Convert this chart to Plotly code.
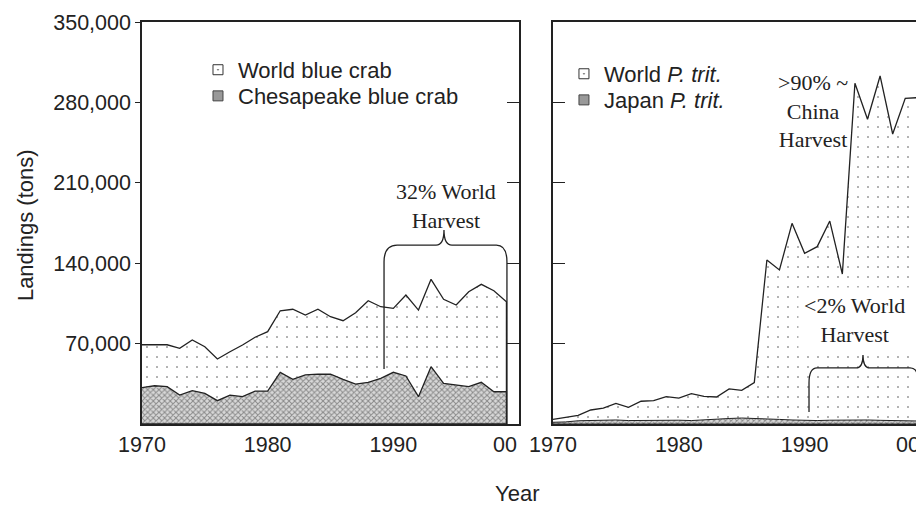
import plotly.graph_objects as go

years = list(range(1970, 2000))

world_blue_crab = [69000, 69200, 69000, 65900, 73100, 67300, 56600, 62900, 68800, 75500,
                   80400, 98600, 99900, 94900, 99900, 93400, 89900, 96900, 107300, 102100,
                   100700, 112300, 99200, 126000, 108600, 103600, 115200, 121600, 116000, 106500]
chesapeake_blue_crab = [31600, 33300, 32500, 25200, 29000, 26700, 20300, 25200, 23800, 28700,
                        28700, 45000, 38900, 42700, 43500, 43300, 38900, 34800, 36300, 39800,
                        45000, 41800, 23800, 49900, 35400, 34000, 32500, 36300, 28100, 28100]
world_p_trit = [4100, 5800, 7600, 12200, 13900, 18000, 14500, 19800, 20300, 23800,
                22600, 26400, 24100, 23500, 30500, 29300, 36000, 142800, 134100, 174700,
                148600, 154400, 176700, 130600, 296600, 265300, 303000, 252500, 283600, 284100]
japan_p_trit = [1500, 1800, 2800, 3000, 3200, 3500, 3000, 3200, 3000, 3500,
                3300, 3000, 3800, 4200, 4800, 5200, 5000, 4500, 4000, 3500,
                3200, 3000, 3300, 3500, 3800, 3500, 3200, 3000, 2800, 2600]

y_ticks = [70000, 140000, 210000, 280000, 350000]
x_ticks = [1970, 1980, 1990]
x_ticktext = ["1970", "1980", "1990"]

SANS = "Liberation Sans, Arial, sans-serif"
SERIF = "Liberation Serif, Times New Roman, serif"
INK = "#222222"

dots = dict(shape=".", size=10, solidity=0.03, fgcolor="#333333", bgcolor="white")
hatch = dict(shape="x", size=4, solidity=0.45, fgcolor="#3a3a3a", bgcolor="#d8d8d8")


def polygon(vals):
    return years + [years[-1], years[0]], vals + [0, 0]


fig = go.Figure()

px, py = polygon(world_blue_crab)
fig.add_trace(go.Scatter(x=px, y=py, fill="toself", fillcolor="white", fillpattern=dots,
                         mode="lines", line=dict(color=INK, width=1.3),
                         showlegend=False, hoverinfo="skip", xaxis="x", yaxis="y"))
px, py = polygon(chesapeake_blue_crab)
fig.add_trace(go.Scatter(x=px, y=py, fill="toself", fillcolor="#d8d8d8", fillpattern=hatch,
                         mode="lines", line=dict(color=INK, width=1.3),
                         showlegend=False, hoverinfo="skip", xaxis="x", yaxis="y"))
px, py = polygon(world_p_trit)
fig.add_trace(go.Scatter(x=px, y=py, fill="toself", fillcolor="white", fillpattern=dots,
                         mode="lines", line=dict(color=INK, width=1.3),
                         showlegend=False, hoverinfo="skip", xaxis="x2", yaxis="y2"))
px, py = polygon(japan_p_trit)
fig.add_trace(go.Scatter(x=px, y=py, fill="toself", fillcolor="#d8d8d8", fillpattern=hatch,
                         mode="lines", line=dict(color=INK, width=1),
                         showlegend=False, hoverinfo="skip", xaxis="x2", yaxis="y2"))
# dummy trace for the inside-tick right axis of left panel
fig.add_trace(go.Scatter(x=[None], y=[None], showlegend=False, xaxis="x", yaxis="y3"))

# legend entries (one legend per row so rows sit exactly like the reference)
open_sym = dict(symbol="square-open-dot", size=10, color="#333333", line=dict(width=1))
fill_sym = dict(symbol="square", size=10, color="#999999", line=dict(color="#444444", width=1))
fig.add_trace(go.Scatter(x=[None], y=[None], mode="markers", marker=open_sym,
                         name="World blue crab", legend="legend", xaxis="x", yaxis="y"))
fig.add_trace(go.Scatter(x=[None], y=[None], mode="markers", marker=fill_sym,
                         name="Chesapeake blue crab", legend="legend2", xaxis="x", yaxis="y"))
fig.add_trace(go.Scatter(x=[None], y=[None], mode="markers", marker=open_sym,
                         name="World <i>P. trit.</i>", legend="legend3", xaxis="x2", yaxis="y2"))
fig.add_trace(go.Scatter(x=[None], y=[None], mode="markers", marker=fill_sym,
                         name="Japan <i>P. trit.</i>", legend="legend4", xaxis="x2", yaxis="y2"))

axis_common = dict(showgrid=False, zeroline=False, showline=True, linecolor=INK, linewidth=1.5,
                   automargin=False)
legend_font = dict(size=22, family=SANS, color=INK)


def leg(x, y):
    return dict(x=x, y=y, xanchor="left", yanchor="top", bgcolor="rgba(0,0,0,0)",
                font=legend_font, tracegroupgap=0)


# the page places the figure 8px from the window's top-left corner
fig.update_layout(
    width=916, height=498,
    margin=dict(l=134, r=0, t=14, b=82, autoexpand=False),
    plot_bgcolor="white", paper_bgcolor="white",
    font=dict(family=SANS, size=21.5, color=INK),
    xaxis=dict(domain=[0, 0.4821], range=[1970, 2000], anchor="y", mirror=True,
               tickvals=x_ticks, ticktext=x_ticktext, ticks="", **axis_common),
    yaxis=dict(domain=[0, 1], range=[0, 350000], anchor="x", tickvals=y_ticks,
               tickformat=",", ticks="outside", ticklen=5, tickcolor=INK, **axis_common),
    yaxis3=dict(overlaying="y", side="right", anchor="x", range=[0, 350000], tickvals=y_ticks,
                ticks="inside", ticklen=12, tickcolor=INK, showticklabels=False, **axis_common),
    xaxis2=dict(domain=[0.52558, 1], range=[1970, 1999.49], anchor="y2", mirror=True,
                tickvals=x_ticks, ticktext=x_ticktext, ticks="", **axis_common),
    yaxis2=dict(domain=[0, 1], range=[0, 350000], anchor="x2", tickvals=y_ticks,
                ticks="inside", ticklen=12, tickcolor=INK, showticklabels=False, **axis_common),
    legend=leg(0.0716, 0.933),
    legend2=leg(0.0716, 0.868),
    legend3=leg(0.5396, 0.923),
    legend4=leg(0.5396, 0.858),
)

serif_font = dict(family=SERIF, size=22, color=INK)
annotations = [
    dict(text="32% World<br>Harvest", x=1994.19, y=190200, xref="x", yref="y",
         showarrow=False, font=serif_font, align="center"),
    dict(text=">90% ~<br>China<br>Harvest", x=1990.67, y=272500, xref="x2", yref="y2",
         showarrow=False, font=serif_font, align="center"),
    dict(text="<2% World<br>Harvest", x=1994.0, y=90500, xref="x2", yref="y2",
         showarrow=False, font=serif_font, align="center", bgcolor="white", borderpad=5),
    dict(text="00", x=2000, y=-0.052, xref="x", yref="paper", xanchor="right", yanchor="middle",
         showarrow=False, font=dict(family=SANS, size=21.5, color=INK)),
    # right panel's "00", kept just inside the window's right edge
    dict(text="00", x=0.9974, y=-0.052, xref="paper", yref="paper", xanchor="right",
         yanchor="middle", showarrow=False, font=dict(family=SANS, size=21.5, color=INK)),
    dict(text="Year", x=0.4795, y=-0.172, xref="paper", yref="paper", xanchor="center",
         yanchor="middle", showarrow=False, font=dict(family=SANS, size=22, color=INK)),
    dict(text="Landings (tons)", x=-0.1495, y=0.495, xref="paper", yref="paper", textangle=-90,
         xanchor="center", yanchor="middle", showarrow=False,
         font=dict(family=SANS, size=22, color=INK)),
]
fig.update_layout(annotations=annotations)

brace_line = dict(color=INK, width=1.3)
left_brace = ("M 1989.26,47900 L 1989.26,141000 Q 1989.26,155800 1990.3,155800 "
              "L 1993.4,155800 Q 1994.03,155800 1994.03,168900 Q 1994.03,155800 1994.66,155800 "
              "L 1998.2,155800 Q 1999.04,155800 1999.04,141000 L 1999.04,0")
right_brace = ("M 1990.35,10400 L 1990.35,35700 Q 1990.35,48800 1990.99,48800 "
               "L 1994.1,48800 Q 1994.64,48800 1994.64,60100 Q 1994.64,48800 1995.18,48800 "
               "L 1998.38,48800 Q 1999.01,48800 1999.01,38300 L 1999.01,0")
fig.update_layout(shapes=[
    dict(type="path", path=left_brace, xref="x", yref="y", line=brace_line),
    dict(type="path", path=right_brace, xref="x2", yref="y2", line=brace_line),
])

fig.write_html("out.html")
